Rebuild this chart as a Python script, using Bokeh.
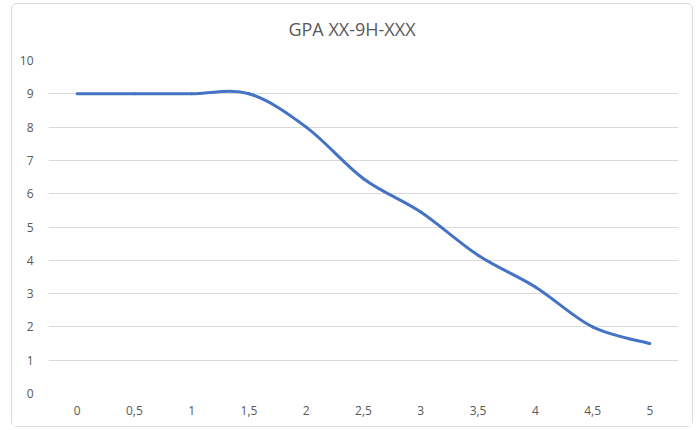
from bokeh.plotting import figure
from bokeh.models import ColumnDataSource, FixedTicker, Range1d, Div
from bokeh.layouts import column
from bokeh.embed import file_html
from bokeh.resources import INLINE

# Data
categories = ["0", "0,5", "1", "1,5", "2", "2,5", "3", "3,5", "4", "4,5", "5"]
values = [9.0, 9.0, 9.0, 9.0, 8.0, 6.45, 5.45, 4.15, 3.2, 2.0, 1.5]
y_ticks = [0, 1, 2, 3, 4, 5, 6, 7, 8, 9, 10]
title_text = "GPA XX-9H-XXX"

# Smoothed line segments (Excel-like cubic Bezier through the data points)
n = len(values)
xs = list(range(n))
def pt(i):
    i = max(0, min(n - 1, i))
    return xs[i], values[i]

seg = dict(x0=[], y0=[], x1=[], y1=[], cx0=[], cy0=[], cx1=[], cy1=[])
for i in range(n - 1):
    xa, ya = pt(i)
    xb, yb = pt(i + 1)
    xp, yp = pt(i - 1)
    xn, yn = pt(i + 2)
    seg["x0"].append(xa); seg["y0"].append(ya)
    seg["x1"].append(xb); seg["y1"].append(yb)
    seg["cx0"].append(xa + (xb - xp) / 6.0); seg["cy0"].append(ya + (yb - yp) / 6.0)
    seg["cx1"].append(xb - (xn - xa) / 6.0); seg["cy1"].append(yb - (yn - ya) / 6.0)
src = ColumnDataSource(seg)

FONT = "Open Sans"
GRAY = "#595959"
W = 680

div = Div(text=title_text, width=W, height=38, margin=(6, 0, 0, 0),
          styles={"font-family": FONT, "font-size": "18px", "color": GRAY,
                  "text-align": "center", "line-height": "38px", "background": "white"})

p = figure(width=W, height=378, output_backend="svg", toolbar_location=None,
           x_range=Range1d(-0.5, n - 0.5), y_range=Range1d(0, 10),
           min_border_left=36, min_border_right=14, min_border_top=12, min_border_bottom=33)
p.outline_line_color = None
p.background_fill_color = "white"
p.border_fill_color = "white"

p.xgrid.grid_line_color = None
p.ygrid.grid_line_color = "#d9d9d9"
p.ygrid.grid_line_width = 1

p.yaxis.ticker = FixedTicker(ticks=y_ticks)
p.xaxis.ticker = FixedTicker(ticks=xs)
p.xaxis.major_label_overrides = {i: c for i, c in enumerate(categories)}
for ax in (p.xaxis, p.yaxis):
    ax.axis_line_color = None
    ax.major_tick_line_color = None
    ax.minor_tick_line_color = None
    ax.major_label_text_font = FONT
    ax.major_label_text_font_size = "12px"
    ax.major_label_text_color = GRAY
p.xaxis.major_label_standoff = 6
p.yaxis.major_label_standoff = 9

p.bezier(x0="x0", y0="y0", x1="x1", y1="y1", cx0="cx0", cy0="cy0", cx1="cx1", cy1="cy1",
         source=src, line_color="#4472C4", line_width=3, line_cap="round")

layout = column(div, p, spacing=0,
                styles={"border": "1px solid #d9d9d9", "border-radius": "6px",
                        "margin-left": "11px", "margin-top": "3px", "background": "white"})

open("out.html", "w").write(file_html(layout, INLINE))
